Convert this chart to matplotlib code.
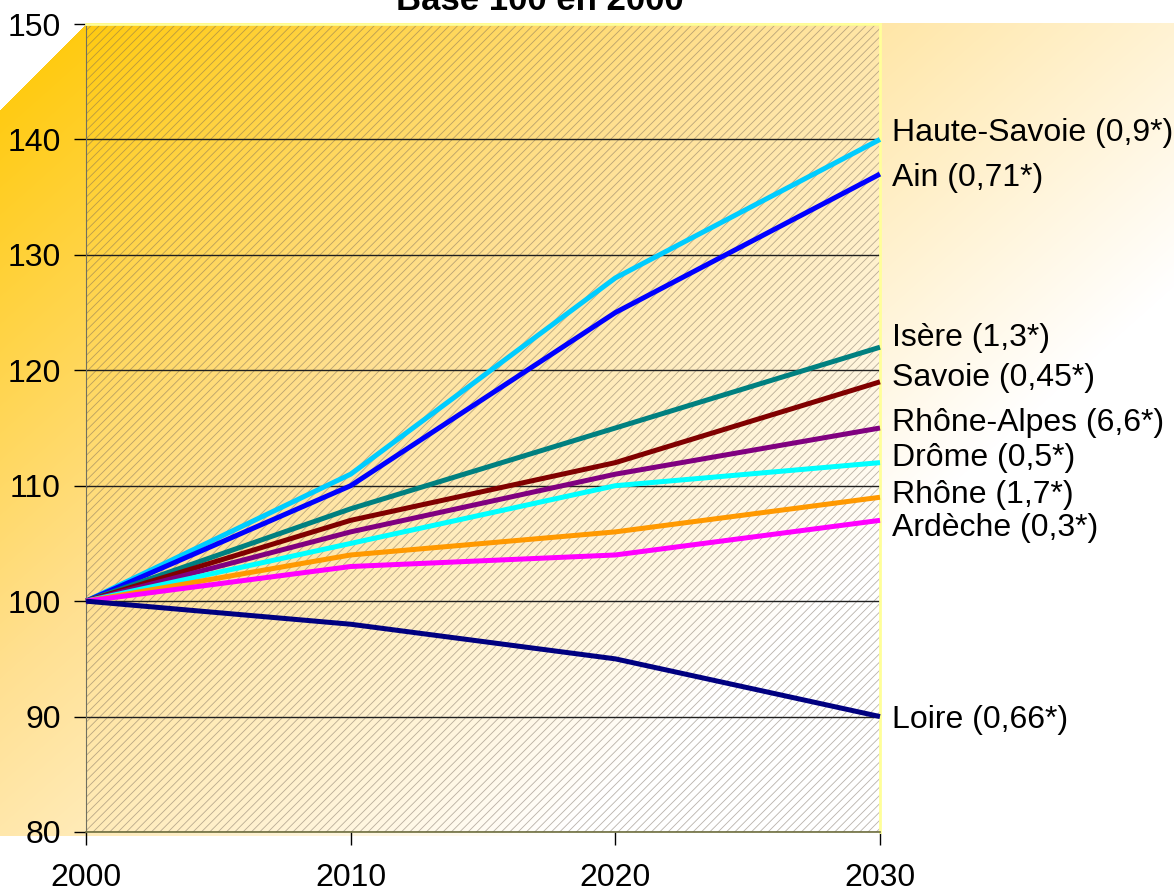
import numpy as np
import matplotlib
matplotlib.use("Agg")
import matplotlib.pyplot as plt
from matplotlib.patches import Rectangle

plt.rcParams['font.family'] = ['Liberation Sans', 'DejaVu Sans']
plt.rcParams['hatch.linewidth'] = 0.6

years = [2000, 2010, 2020, 2030]

names = ["Haute-Savoie (0,9*)", "Ain (0,71*)", "Isère (1,3*)", "Savoie (0,45*)",
         "Rhône-Alpes (6,6*)", "Drôme (0,5*)", "Rhône (1,7*)", "Ardèche (0,3*)",
         "Loire (0,66*)"]
haute_savoie = [100, 111, 128, 140]
ain = [100, 110, 125, 137]
isere = [100, 108, 115, 122]
savoie = [100, 107, 112, 119]
rhone_alpes = [100, 106, 111, 115]
drome = [100, 105, 110, 112]
rhone = [100, 104, 106, 109]
ardeche = [100, 103, 104, 107]
loire = [100, 98, 95, 90]
series = [haute_savoie, ain, isere, savoie, rhone_alpes, drome, rhone, ardeche, loire]
colors = ["#00CCFF", "#0000FF", "#008080", "#800000", "#800080", "#00FFFF",
          "#FF9900", "#FF00FF", "#000080"]
# vertical spot of each right-hand label (data units)
label_y = [140.6, 136.7, 122.8, 119.3, 115.4, 112.4, 109.2, 106.3, 89.7]

W, H = 1174, 894
fig = plt.figure(figsize=(W / 100, H / 100), dpi=100)

# gradient background with cut top-left corner
bg = fig.add_axes([0, 0, 1, 1], zorder=-5)
bg.set_axis_off()
yy, xx = np.mgrid[0:H, 0:W]
t = np.clip(0.8 * xx / W + 0.62 * (yy - 24) / 811, 0, 1)
c0 = np.array([255, 200, 0]) / 255
c1 = np.array([255, 224, 145]) / 255
c2 = np.array([255, 255, 255]) / 255
img = np.zeros((H, W, 4))
lo = t < 0.5
for k in range(3):
    img[..., k] = np.where(lo, c0[k] + (c1[k] - c0[k]) * t / 0.5,
                           c1[k] + (c2[k] - c1[k]) * (t - 0.5) / 0.5)
inside = (yy >= 23) & (yy <= 835) & (yy >= 110 - xx * 87 / 86)
img[..., 3] = inside.astype(float)
bg.imshow(img, extent=[0, W, H, 0], aspect='auto', interpolation='bilinear')
bg.set_xlim(0, W)
bg.set_ylim(H, 0)

ax = fig.add_axes([86 / W, 1 - 832 / H, 794 / W, 808 / H])
ax.set_facecolor('none')
ax.add_patch(Rectangle((0, 0), 1, 1, transform=ax.transAxes, facecolor='none',
                       edgecolor=(0.45, 0.4, 0.35, 0.5), hatch='////', lw=0, zorder=0.5))

for vals, col, name, ly in zip(series, colors, names, label_y):
    ax.plot(years, vals, color=col, lw=3.6, zorder=3, solid_joinstyle='round',
            solid_capstyle='butt', clip_on=False)
    ax.text(2030.45, ly, name, fontsize=23, va='center', ha='left', color='black')

ax.set_xlim(2000, 2030)
ax.set_ylim(80, 150)
ax.set_xticks(years)
ax.set_yticks(range(80, 151, 10))
ax.yaxis.grid(True, color='#202020', lw=1)
ax.set_axisbelow(True)
ax.tick_params(axis='y', direction='out', length=9, width=1, pad=9, labelsize=23)
ax.tick_params(axis='x', direction='out', length=9, width=1, pad=13, labelsize=23)
for s in ['top', 'right']:
    ax.spines[s].set_color('#FFFF99')
    ax.spines[s].set_linewidth(2)
ax.spines['left'].set_color('#707060')
ax.spines['bottom'].set_color('#707040')
ax.spines['bottom'].set_linewidth(1.2)

fig.text(540 / W, 1 - 10 / H, "Base 100 en 2000", fontsize=25, fontweight='bold',
         ha='center', va='baseline')

fig.savefig("out.png", dpi=100)
